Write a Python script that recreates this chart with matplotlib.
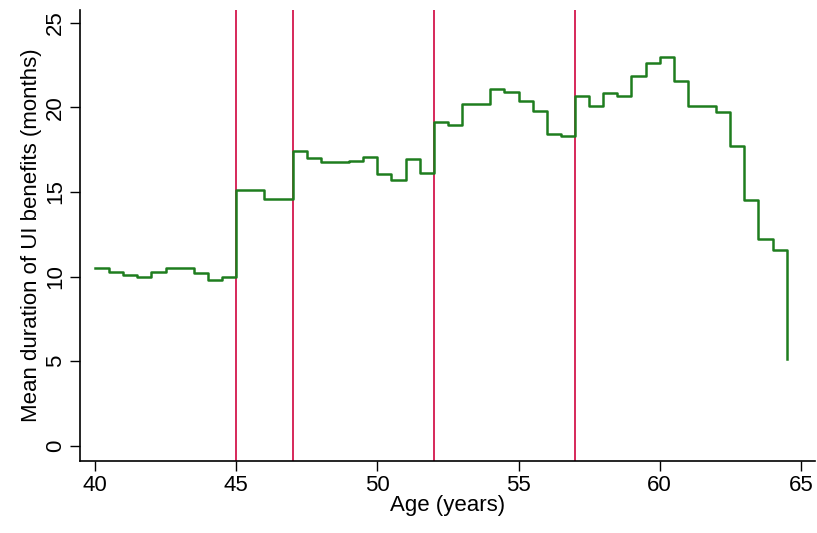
import numpy as np
import matplotlib
matplotlib.use('Agg')
from matplotlib import pyplot as plt

# half-year age bins
age = np.arange(40, 65, 0.5)
duration = [10.5, 10.3, 10.1, 10.0, 10.3, 10.5, 10.5, 10.2, 9.8, 10.0,
            15.1, 15.1, 14.6, 14.6, 17.4, 17.0, 16.8, 16.8, 16.85, 17.05,
            16.05, 15.7, 16.95, 16.15, 19.15, 18.95, 20.2, 20.2, 21.1, 20.9,
            20.4, 19.8, 18.4, 18.3, 20.7, 20.1, 20.85, 20.7, 21.85, 22.6,
            23.0, 21.55, 20.1, 20.1, 19.7, 17.7, 14.55, 12.25, 11.55, 5.15]
cutoffs = [45, 47, 52, 57]
xticks = [40, 45, 50, 55, 60, 65]
yticks = [0, 5, 10, 15, 20, 25]

plt.rcParams['font.family'] = ['Liberation Sans', 'DejaVu Sans']

fig = plt.figure(figsize=(8.17, 5.33), dpi=100)
ax = fig.add_axes([0.098, 0.135, 0.8995, 0.846])

for c in cutoffs:
    ax.axvline(c, color='#d6285a', lw=1.4, zorder=1)
ax.step(age, duration, where='post', color='#1e7d1e', lw=1.8, zorder=2)

ax.set_xlim(39.47, 65.5)
ax.set_ylim(-0.9, 25.75)
ax.set_xticks(xticks)
ax.set_yticks(yticks)
ax.set_yticklabels([str(t) for t in yticks], rotation=90, va='center')
ax.tick_params(axis='both', direction='out', length=7, width=1, labelsize=16, pad=3)

for s in ['top', 'right']:
    ax.spines[s].set_visible(False)
for s in ['left', 'bottom']:
    ax.spines[s].set_linewidth(1.2)

ax.set_xlabel('Age (years)', fontsize=16, labelpad=-1)
ax.set_ylabel('Mean duration of UI benefits (months)', fontsize=16, labelpad=2)

fig.savefig('out.png', dpi=100)
